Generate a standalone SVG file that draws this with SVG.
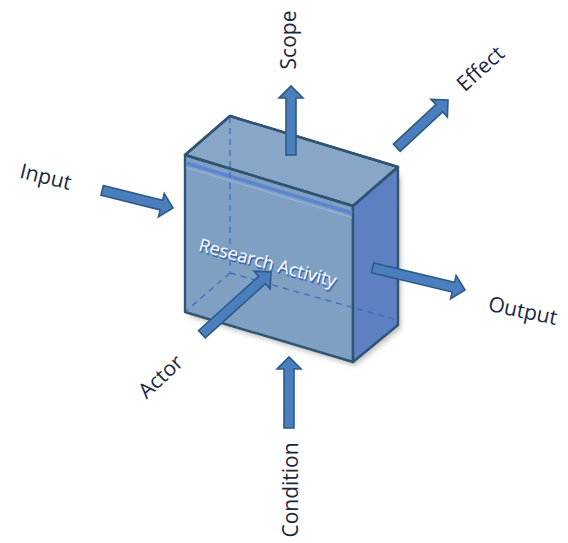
<svg xmlns="http://www.w3.org/2000/svg" width="568" height="543" viewBox="0 0 568 543">
<defs>
<style>
.edge{stroke:#2f5573;stroke-width:2.4;stroke-linejoin:round}
.hid{fill:none;stroke:#3f6fb8;stroke-width:1.3;stroke-dasharray:6 5}
.arr{fill:#4a7ebd;stroke:#2c5a86;stroke-width:1.6;stroke-linejoin:miter}
.lbl{font-family:"Open Sans","Noto Sans",sans-serif;font-size:21px;fill:#1c2740;text-anchor:middle;dominant-baseline:central}
.ra{font-family:"Open Sans","Noto Sans",sans-serif;font-size:18px;text-anchor:middle;dominant-baseline:central}
</style>
<filter id="sh" x="-20%" y="-20%" width="140%" height="140%">
<feGaussianBlur stdDeviation="2.5"/>
</filter>
</defs>
<g id="box">
<path d="M187,316 L355,366 L401,329 L401,175 Z" fill="#9a9a9a" opacity="0.6" filter="url(#sh)"/>
<polygon class="edge" points="185,155 230,116 398,167 353,206" fill="#88a6c7"/>
<polygon class="edge" points="185,155 353,206 353,362 185,312" fill="#7f9fc3"/>
<polygon class="edge" points="353,206 398,167 398,325 353,362" fill="#5c80c2"/>
<line x1="186" y1="163" x2="352" y2="213" stroke="#5a86d0" stroke-width="3.5"/>
<line x1="186" y1="167.5" x2="352" y2="217.5" stroke="#9ab8dc" stroke-width="1.5" opacity="0.7"/>
<path class="hid" d="M230,117 L230,273 M230,273 L186,311 M230,273 L397,320"/>
<polygon class="edge" points="185,155 230,116 398,167 353,206" fill="none"/>
</g>
<g id="label-center">
<text class="ra" transform="translate(268,262) rotate(15)" fill="#3a65b5" dx="1.5" dy="1.8">Research Activity</text>
<text class="ra" transform="translate(268,262) rotate(15)" fill="#ffffff">Research Activity</text>
</g>
<g id="connectors">
<g transform="translate(291,86) rotate(-90)"><path class="arr" d="M-69,-5 L-12,-5 L-12,-12 L0,0 L-12,12 L-12,5 L-69,5 Z"/></g>
<g transform="translate(448,100) rotate(-43)"><path class="arr" d="M-70,-5 L-12,-5 L-12,-12 L0,0 L-12,12 L-12,5 L-70,5 Z"/></g>
<g transform="translate(173,208) rotate(14)"><path class="arr" d="M-73,-5 L-12,-5 L-12,-12 L0,0 L-12,12 L-12,5 L-73,5 Z"/></g>
<g transform="translate(465,290) rotate(13.5)"><path class="arr" d="M-95,-5 L-12,-5 L-12,-12 L0,0 L-12,12 L-12,5 L-95,5 Z"/></g>
<g transform="translate(271,272) rotate(-42)"><path class="arr" d="M-93,-5 L-12,-5 L-12,-12 L0,0 L-12,12 L-12,5 L-93,5 Z"/></g>
<g transform="translate(289,357) rotate(-90)"><path class="arr" d="M-71,-5 L-12,-5 L-12,-12 L0,0 L-12,12 L-12,5 L-71,5 Z"/></g>
</g>
<g id="scope"><text class="lbl" transform="translate(288,40) rotate(-90)">Scope</text></g>
<g id="effect"><text class="lbl" transform="translate(480,68) rotate(-42)">Effect</text></g>
<g id="input"><text class="lbl" transform="translate(46,176) rotate(14)">Input</text></g>
<g id="output"><text class="lbl" transform="translate(523,310) rotate(12)">Output</text></g>
<g id="actor"><text class="lbl" transform="translate(160,376) rotate(-43)">Actor</text></g>
<g id="condition"><text class="lbl" transform="translate(290,490) rotate(-90)">Condition</text></g>
</svg>
